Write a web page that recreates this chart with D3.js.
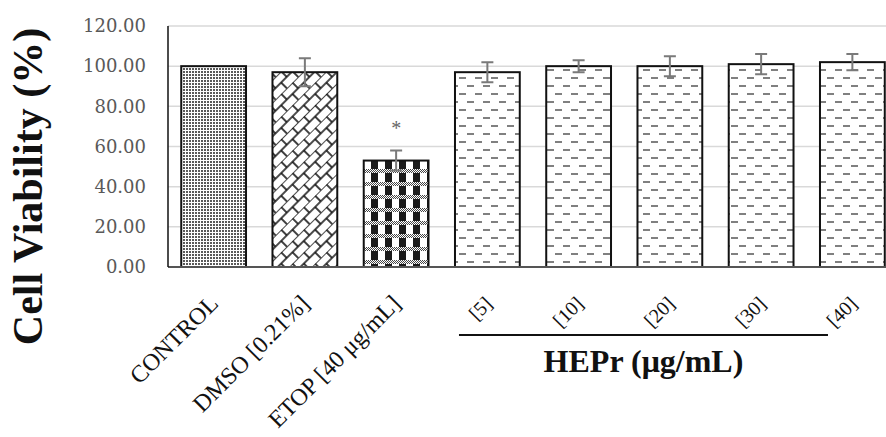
<!DOCTYPE html>
<html>
<head>
<meta charset="utf-8">
<script src="https://cdn.jsdelivr.net/npm/d3@7"></script>
<style>
  body { margin: 0; background: #fff; }
  .y-axis text { font-family: "DejaVu Serif", serif; font-size: 18px; fill: #595959; }
  .x-label { font-family: "Liberation Serif", serif; fill: #111; }
  .axis-title { font-family: "Liberation Serif", serif; font-weight: bold; fill: #111; }
</style>
</head>
<body>
<svg id="chart"></svg>
<script>
// values
const categories = ['CONTROL', 'DMSO [0.21%]', 'ETOP [40 μg/mL]', '[5]', '[10]', '[20]', '[30]', '[40]'];
const viability = [100, 97, 53, 97, 100, 100, 101, 102];
const errors = [0, 7, 5, 5, 3, 5, 5, 4];
const significant = [false, false, true, false, false, false, false, false];
const yTicks = [0, 20, 40, 60, 80, 100, 120];

// Bar chart with patterned fills
class BarChart {
    constructor(_config, _data){
        this.config = {
            parentElement: _config.parentElement,
            containerWidth: _config.containerWidth || 886,
            containerHeight: _config.containerHeight || 437,
            margin: _config.margin || {top: 26, right: -12, bottom: 170, left: 168},
            fills: _config.fills
        }
        this.data = _data;
        this.initVis();
    }

    initVis(){
        let vis = this;

        vis.width = vis.config.containerWidth - vis.config.margin.left - vis.config.margin.right;
        vis.height = vis.config.containerHeight - vis.config.margin.top - vis.config.margin.bottom;

        vis.xScale = d3.scaleBand()
            .range([0, vis.width])
            .paddingInner(0.29)
            .paddingOuter(0.145);

        vis.yScale = d3.scaleLinear()
            .range([vis.height, 0]);

        vis.yAxis = d3.axisLeft(vis.yScale)
            .tickValues(yTicks)
            .tickSize(0)
            .tickPadding(22)
            .tickFormat(d3.format('.2f'));

        vis.svg = d3.select(vis.config.parentElement)
            .attr('width', vis.config.containerWidth)
            .attr('height', vis.config.containerHeight);

        // fill patterns
        let defs = vis.svg.append('defs');

        let dots = defs.append('pattern')
            .attr('id', 'dots')
            .attr('patternUnits', 'userSpaceOnUse')
            .attr('width', 3).attr('height', 3);
        dots.append('rect').attr('width', 3).attr('height', 3).attr('fill', '#fff');
        dots.append('rect').attr('width', 2).attr('height', 2).attr('fill', '#5a5a5a');

        let brick = defs.append('pattern')
            .attr('id', 'brick')
            .attr('patternUnits', 'userSpaceOnUse')
            .attr('width', 16).attr('height', 16)
            .attr('patternTransform', 'rotate(-45)');
        brick.append('rect').attr('width', 16).attr('height', 16).attr('fill', '#fff');
        brick.append('path')
            .attr('d', 'M0,0H16M0,8H16M0,0V8M8,8V16M16,0V8')
            .attr('stroke', '#111').attr('stroke-width', 1.6).attr('fill', 'none');

        let checker = defs.append('pattern')
            .attr('id', 'checker')
            .attr('patternUnits', 'userSpaceOnUse')
            .attr('width', 14).attr('height', 13);
        checker.append('rect').attr('width', 14).attr('height', 13).attr('fill', '#fff');
        for(let i = 0; i < 14; i++){
            for(let j = 0; j < 4; j++){
                if((i + j) % 2 === 0){
                    checker.append('rect').attr('x', i).attr('y', j)
                        .attr('width', 1).attr('height', 1).attr('fill', '#444');
                }
            }
        }
        checker.append('rect').attr('x', 7).attr('y', 4).attr('width', 7).attr('height', 9).attr('fill', '#1a1a1a');

        let dash = defs.append('pattern')
            .attr('id', 'dash')
            .attr('patternUnits', 'userSpaceOnUse')
            .attr('width', 16).attr('height', 16)
            .attr('x', 2).attr('y', 3);
        dash.append('rect').attr('width', 16).attr('height', 16).attr('fill', '#fff');
        dash.append('path')
            .attr('d', 'M1,1H8M9,9H16')
            .attr('stroke', '#808080').attr('stroke-width', 2).attr('fill', 'none');

        vis.chart = vis.svg.append('g')
            .attr('transform', `translate(${vis.config.margin.left},${vis.config.margin.top})`);

        vis.gridG = vis.chart.append('g').attr('class', 'grid');

        vis.yAxisG = vis.chart.append('g')
            .attr('class', 'axis y-axis');

        vis.barsG = vis.chart.append('g').attr('class', 'bars');

        // y axis title
        vis.chart.append('text')
            .attr('class', 'axis-title')
            .attr('transform', `translate(${-126},${vis.height/2 + 40}) rotate(-90)`)
            .attr('text-anchor', 'middle')
            .style('font-size', '42px')
            .text('Cell Viability  (%)');

        vis.updateVis();
    }

    updateVis(){
        let vis = this;

        vis.xValue = d => d.category;
        vis.yValue = d => d.value;

        vis.xScale.domain(vis.data.map(vis.xValue));
        vis.yScale.domain([0, 120]);

        vis.renderVis();
    }

    renderVis(){
        let vis = this;

        // gridlines
        vis.gridG.selectAll('line')
            .data(yTicks.filter(d => d > 0))
            .join('line')
            .attr('x1', 0)
            .attr('x2', vis.width)
            .attr('y1', d => vis.yScale(d))
            .attr('y2', d => vis.yScale(d))
            .attr('stroke', '#d9d9d9')
            .attr('stroke-width', 1.5);

        vis.yAxisG.call(vis.yAxis);
        vis.yAxisG.select('.domain').remove();

        // bars
        vis.barsG.selectAll('rect.bar')
            .data(vis.data)
            .join('rect')
            .attr('class', 'bar')
            .attr('x', d => vis.xScale(vis.xValue(d)))
            .attr('y', d => vis.yScale(vis.yValue(d)))
            .attr('width', vis.xScale.bandwidth())
            .attr('height', d => vis.height - vis.yScale(vis.yValue(d)))
            .attr('fill', (d, i) => `url(#${vis.config.fills[i]})`)
            .attr('stroke', '#111')
            .attr('stroke-width', 2);

        // error bars
        let errData = vis.data.filter(d => d.err > 0);
        let cx = d => vis.xScale(vis.xValue(d)) + vis.xScale.bandwidth()/2;
        vis.barsG.selectAll('path.err')
            .data(errData)
            .join('path')
            .attr('class', 'err')
            .attr('d', d => {
                let x = cx(d), top = vis.yScale(d.value + d.err), bot = vis.yScale(d.value - d.err);
                return `M${x - 6},${top}H${x + 6}M${x},${top}V${bot}M${x - 6},${bot}H${x + 6}`;
            })
            .attr('stroke', '#7a7a7a')
            .attr('stroke-width', 2)
            .attr('fill', 'none');

        // significance marks
        vis.barsG.selectAll('text.sig')
            .data(vis.data.filter(d => d.sig))
            .join('text')
            .attr('class', 'sig')
            .attr('x', cx)
            .attr('y', d => vis.yScale(d.value + d.err) - 16)
            .attr('text-anchor', 'middle')
            .attr('fill', '#666')
            .style('font-family', 'Liberation Serif, serif')
            .style('font-size', '20px')
            .text('*');

        // x axis line
        vis.chart.append('line')
            .attr('x1', 0).attr('x2', vis.width)
            .attr('y1', vis.height).attr('y2', vis.height)
            .attr('stroke', '#555').attr('stroke-width', 2);
        vis.chart.append('line')
            .attr('x1', 0).attr('x2', 0)
            .attr('y1', 0).attr('y2', vis.height)
            .attr('stroke', '#111').attr('stroke-width', 1.5);

        // rotated category labels
        vis.chart.selectAll('text.x-label')
            .data(vis.data)
            .join('text')
            .attr('class', 'x-label')
            .attr('text-anchor', 'end')
            .attr('transform', d => `translate(${cx(d) + 6},${vis.height + 38}) rotate(-45)`)
            .style('font-size', (d, i) => i < 3 ? '24px' : '20px')
            .text(vis.xValue);

        // bracket under the HEPr doses
        let hep = vis.data.slice(3);
        let x0 = vis.xScale(hep[0].category) + 4;
        let x1 = vis.xScale(hep[hep.length - 1].category) + 8;
        vis.chart.append('line')
            .attr('x1', x0).attr('x2', x1)
            .attr('y1', vis.height + 68).attr('y2', vis.height + 68)
            .attr('stroke', '#111').attr('stroke-width', 2);
        vis.chart.append('text')
            .attr('class', 'axis-title')
            .attr('x', (x0 + x1)/2)
            .attr('y', vis.height + 105)
            .attr('text-anchor', 'middle')
            .style('font-size', '32px')
            .text('HEPr (μg/mL)');
    }
}

const data = categories.map((c, i) => ({category: c, value: viability[i], err: errors[i], sig: significant[i]}));

new BarChart({
    parentElement: '#chart',
    fills: ['dots', 'brick', 'checker', 'dash', 'dash', 'dash', 'dash', 'dash']
}, data);
</script>
</body>
</html>
